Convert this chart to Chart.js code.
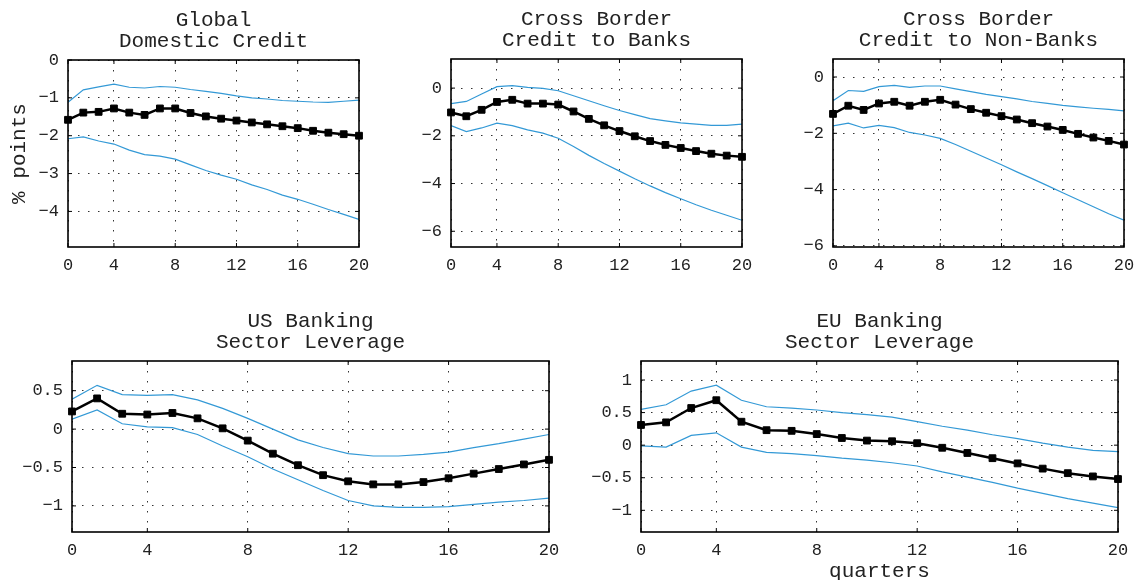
<!DOCTYPE html>
<html>
<head>
<meta charset="utf-8">
<script src="https://cdn.jsdelivr.net/npm/chart.js@4/dist/chart.umd.min.js"></script>
<style>
  html, body { margin: 0; padding: 0; background: #fff; overflow: hidden; }
  body { width: 1136px; height: 580px; position: relative; }
  .panel { position: absolute; }
</style>
</head>
<body>
<div id="wrap"></div>
<script>
// horizon index (plotted 1..20, axis labelled 0..20)
const horizon = [1, 2, 3, 4, 5, 6, 7, 8, 9, 10, 11, 12, 13, 14, 15, 16, 17, 18, 19, 20];
const xTickPos = [1, 4, 8, 12, 16, 20];
const xTickLabels = ['0', '4', '8', '12', '16', '20'];

// Global domestic credit
const domMid = [-1.58, -1.39, -1.37, -1.28, -1.39, -1.45, -1.28, -1.28, -1.40, -1.49, -1.55, -1.60, -1.65, -1.70, -1.75, -1.80, -1.87, -1.92, -1.96, -2.00];
const domUp  = [-1.12, -0.79, -0.71, -0.64, -0.72, -0.74, -0.70, -0.72, -0.78, -0.83, -0.88, -0.95, -1.00, -1.03, -1.07, -1.09, -1.11, -1.12, -1.09, -1.06];
const domLow = [-2.08, -2.03, -2.14, -2.22, -2.38, -2.50, -2.54, -2.62, -2.77, -2.92, -3.04, -3.15, -3.30, -3.42, -3.57, -3.68, -3.81, -3.95, -4.08, -4.21];
const domTicks = [0, -1, -2, -3, -4];

// Cross border credit to banks
const cbbMid = [-1.02, -1.18, -0.91, -0.58, -0.49, -0.65, -0.65, -0.69, -0.98, -1.29, -1.56, -1.80, -2.02, -2.22, -2.38, -2.51, -2.64, -2.75, -2.83, -2.88];
const cbbUp  = [-0.65, -0.56, -0.25, 0.06, 0.10, 0.03, -0.01, -0.11, -0.32, -0.53, -0.74, -0.94, -1.11, -1.28, -1.37, -1.46, -1.51, -1.56, -1.56, -1.51];
const cbbLow = [-1.57, -1.82, -1.67, -1.47, -1.57, -1.75, -1.89, -2.10, -2.45, -2.82, -3.16, -3.48, -3.80, -4.10, -4.38, -4.64, -4.89, -5.12, -5.33, -5.54];
const cbbTicks = [0, -2, -4, -6];

// Cross border credit to non-banks
const cbnMid = [-1.31, -1.02, -1.17, -0.94, -0.88, -1.02, -0.88, -0.81, -0.98, -1.14, -1.27, -1.39, -1.51, -1.64, -1.76, -1.88, -2.02, -2.15, -2.27, -2.40];
const cbnUp  = [-0.84, -0.48, -0.51, -0.34, -0.30, -0.37, -0.32, -0.32, -0.42, -0.52, -0.62, -0.70, -0.78, -0.87, -0.94, -1.01, -1.06, -1.11, -1.15, -1.20];
const cbnLow = [-1.74, -1.64, -1.81, -1.72, -1.80, -1.97, -2.06, -2.18, -2.40, -2.64, -2.88, -3.12, -3.37, -3.61, -3.86, -4.11, -4.36, -4.61, -4.86, -5.09];
const cbnTicks = [0, -2, -4, -6];

// US banking sector leverage
const usMid = [0.23, 0.40, 0.20, 0.19, 0.21, 0.14, 0.01, -0.15, -0.32, -0.47, -0.60, -0.68, -0.72, -0.72, -0.69, -0.64, -0.58, -0.52, -0.46, -0.40];
const usUp  = [0.39, 0.57, 0.45, 0.44, 0.45, 0.38, 0.27, 0.14, 0.00, -0.14, -0.24, -0.32, -0.35, -0.35, -0.33, -0.30, -0.24, -0.19, -0.13, -0.07];
const usLow = [0.13, 0.25, 0.07, 0.03, 0.02, -0.07, -0.22, -0.36, -0.52, -0.66, -0.80, -0.93, -1.00, -1.02, -1.02, -1.01, -0.98, -0.95, -0.93, -0.90];
const usTicks = [0.5, 0, -0.5, -1];

// EU banking sector leverage
const euMid = [0.31, 0.35, 0.57, 0.69, 0.36, 0.23, 0.22, 0.17, 0.11, 0.07, 0.06, 0.03, -0.04, -0.12, -0.20, -0.28, -0.36, -0.43, -0.48, -0.52];
const euUp  = [0.55, 0.62, 0.83, 0.92, 0.69, 0.59, 0.57, 0.54, 0.50, 0.47, 0.43, 0.36, 0.29, 0.23, 0.16, 0.10, 0.03, -0.03, -0.08, -0.10];
const euLow = [-0.01, -0.03, 0.15, 0.19, -0.03, -0.11, -0.13, -0.16, -0.20, -0.23, -0.27, -0.32, -0.41, -0.49, -0.57, -0.66, -0.74, -0.82, -0.89, -0.96];
const euTicks = [1, 0.5, 0, -0.5, -1];

const FONT = 'Liberation Mono, Courier New, monospace';
const TXT = '#222';
const BLUE = '#3399d6';
const YW = 64, RP = 14, TITLE_H = 50;

// panel layout: plot area in page pixels
const panels = [
  { title: ['Global', 'Domestic Credit'], mid: domMid, up: domUp, low: domLow, ticks: domTicks, yMin: -4.94, yMax: 0,
    l: 68, r: 359, t: 60, b: 247, xh: 30, yTitle: '% points' },
  { title: ['Cross Border', 'Credit to Banks'], mid: cbbMid, up: cbbUp, low: cbbLow, ticks: cbbTicks, yMin: -6.66, yMax: 1.22,
    l: 451, r: 742, t: 59, b: 247, xh: 30 },
  { title: ['Cross Border', 'Credit to Non-Banks'], mid: cbnMid, up: cbnUp, low: cbnLow, ticks: cbnTicks, yMin: -6.04, yMax: 0.64,
    l: 833, r: 1124, t: 59, b: 247, xh: 30 },
  { title: ['US Banking', 'Sector Leverage'], mid: usMid, up: usUp, low: usLow, ticks: usTicks, yMin: -1.34, yMax: 0.887,
    l: 72, r: 549, t: 361, b: 532, xh: 30 },
  { title: ['EU Banking', 'Sector Leverage'], mid: euMid, up: euUp, low: euLow, ticks: euTicks, yMin: -1.333, yMax: 1.292,
    l: 641, r: 1118, t: 361, b: 532, xh: 52, xTitle: 'quarters' }
];

// box round the axes with inward tick marks, like the original figure
const frame = {
  id: 'frame',
  afterDraw(chart) {
    const { ctx, chartArea: a, scales: { x, y } } = chart;
    ctx.save();
    ctx.strokeStyle = '#000';
    ctx.lineWidth = 1;
    ctx.beginPath();
    x.ticks.forEach(t => {
      const px = x.getPixelForValue(t.value);
      ctx.moveTo(px, a.bottom); ctx.lineTo(px, a.bottom - 4);
      ctx.moveTo(px, a.top); ctx.lineTo(px, a.top + 4);
    });
    y.ticks.forEach(t => {
      const py = y.getPixelForValue(t.value);
      ctx.moveTo(a.left, py); ctx.lineTo(a.left + 4, py);
      ctx.moveTo(a.right, py); ctx.lineTo(a.right - 4, py);
    });
    ctx.stroke();
    ctx.lineWidth = 1.6;
    ctx.strokeRect(a.left, a.top, a.right - a.left, a.bottom - a.top);
    ctx.restore();
  }
};

const fmt = v => String(v).replace('-', '\u2212');

panels.forEach(p => {
  const w = YW + (p.r - p.l) + RP;
  const h = TITLE_H + (p.b - p.t) + p.xh;
  const div = document.createElement('div');
  div.className = 'panel';
  div.style.left = (p.l - YW) + 'px';
  div.style.top = (p.t - TITLE_H) + 'px';
  div.style.width = w + 'px';
  div.style.height = h + 'px';
  const cv = document.createElement('canvas');
  cv.width = w; cv.height = h;
  cv.style.width = w + 'px'; cv.style.height = h + 'px';
  div.appendChild(cv);
  document.getElementById('wrap').appendChild(div);

  new Chart(cv.getContext('2d'), {
    type: 'line',
    data: {
      labels: horizon,
      datasets: [
        { data: p.up, borderColor: BLUE, borderWidth: 1.2, pointRadius: 0, fill: false },
        { data: p.low, borderColor: BLUE, borderWidth: 1.2, pointRadius: 0, fill: false },
        { data: p.mid, borderColor: '#000', borderWidth: 2.5, pointStyle: 'rect', pointRadius: 4.8,
          pointBackgroundColor: '#000', pointBorderColor: '#000', pointBorderWidth: 1, fill: false, clip: false }
      ]
    },
    options: {
      responsive: false,
      animation: false,
      devicePixelRatio: 1,
      layout: { padding: { left: 0, right: RP, top: 0, bottom: 0 } },
      plugins: {
        legend: { display: false },
        tooltip: { enabled: false },
        title: {
          display: true, text: p.title, color: TXT, fullSize: false,
          font: { family: FONT, size: 21, weight: 'normal', lineHeight: 1 },
          padding: { top: 0, bottom: 8 }
        }
      },
      scales: {
        x: {
          type: 'linear', min: 1, max: 20,
          afterBuildTicks: s => { s.ticks = xTickPos.map(v => ({ value: v })); },
          afterFit: s => { s.height = p.xh; s.paddingLeft = 0; s.paddingRight = 0; },
          grid: { color: '#333', lineWidth: 1, drawTicks: false },
          border: { display: false, dash: [1.5, 8.5] },
          ticks: {
            font: { family: FONT, size: 17 }, color: TXT, padding: 8, maxRotation: 0, autoSkip: false,
            callback: v => xTickLabels[xTickPos.indexOf(v)]
          },
          title: {
            display: !!p.xTitle, text: p.xTitle || '', color: TXT,
            font: { family: FONT, size: 21, lineHeight: 1 }, padding: { top: 0, bottom: 2.5 }
          }
        },
        y: {
          type: 'linear', min: p.yMin, max: p.yMax,
          afterBuildTicks: s => { s.ticks = p.ticks.map(v => ({ value: v })); },
          afterFit: s => { s.width = YW; },
          grid: { color: '#333', lineWidth: 1, drawTicks: false },
          border: { display: false, dash: [1.5, 8.5] },
          ticks: { font: { family: FONT, size: 17 }, color: TXT, padding: 9, callback: v => fmt(v) },
          title: {
            display: !!p.yTitle, text: p.yTitle || '', color: TXT,
            font: { family: FONT, size: 21, lineHeight: 1 }, padding: { top: 4.5, bottom: 0 }
          }
        }
      }
    },
    plugins: [frame]
  });
});
</script>
</body>
</html>
